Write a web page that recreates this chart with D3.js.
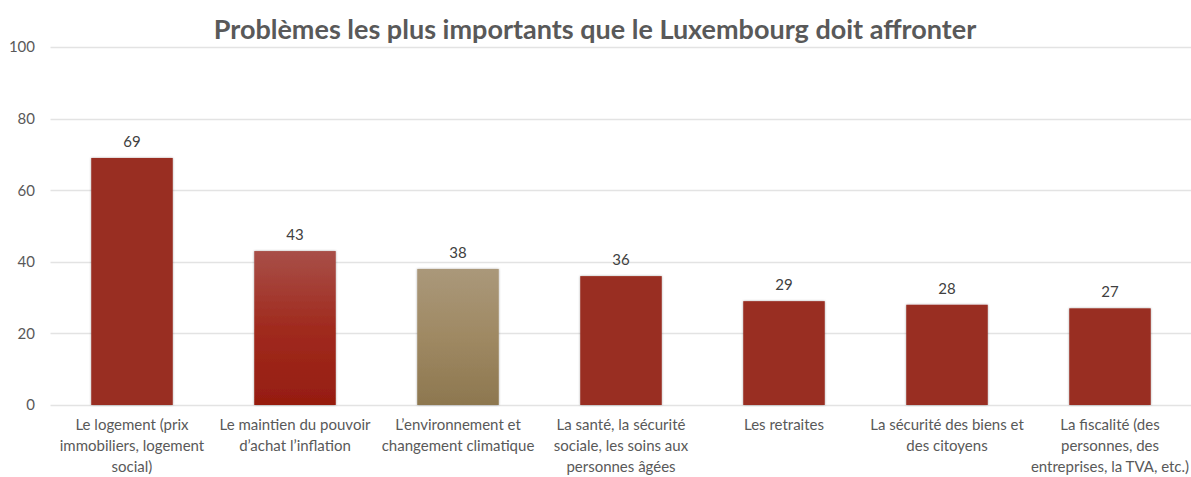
<!DOCTYPE html>
<html>
<head>
<meta charset="utf-8">
<script src="https://cdn.jsdelivr.net/npm/d3@7"></script>
<style>
  html, body { margin: 0; padding: 0; background: #fff; }
  svg { display: block; font-family: Lato, "Open Sans", sans-serif; }
</style>
</head>
<body>
<svg id="chart" width="1191" height="477"></svg>
<script>
// Problem categories (multi-line axis labels)
const categories = [
  ["Le logement (prix", "immobiliers, logement", "social)"],
  ["Le maintien du pouvoir", "d\u2019achat l\u2019inflation"],
  ["L\u2019environnement et", "changement climatique"],
  ["La sant\u00e9, la s\u00e9curit\u00e9", "sociale, les soins aux", "personnes \u00e2g\u00e9es"],
  ["Les retraites"],
  ["La s\u00e9curit\u00e9 des biens et", "des citoyens"],
  ["La fiscalit\u00e9 (des", "personnes, des", "entreprises, la TVA, etc.)"]
];
// Share of respondents (%)
const values = [69, 43, 38, 36, 29, 28, 27];
// Fill style per bar: solid red, red gradient, bronze gradient
const fills = ["solid", "redGrad", "bronzeGrad", "solid", "solid", "solid", "solid"];
const yTicks = [0, 20, 40, 60, 80, 100];
const title = "Probl\u00e8mes les plus importants que le Luxembourg doit affronter";

const svg = d3.select("#chart");
const W = 1191, H = 477;
const margin = { left: 50.5, right: -0.5, top: 47, bottom: 72 };

const x = d3.scaleBand()
  .domain(d3.range(categories.length))
  .range([margin.left, W - margin.right])
  .paddingInner(0.5)
  .paddingOuter(0.25);

const y = d3.scaleLinear()
  .domain([0, 100])
  .range([H - margin.bottom - 0, margin.top]);

// Gradients and shadow
const defs = svg.append("defs");
const g1 = defs.append("linearGradient").attr("id", "redGrad").attr("x1", 0).attr("y1", 0).attr("x2", 0).attr("y2", 1);
g1.append("stop").attr("offset", "0%").attr("stop-color", "#a84f48");
g1.append("stop").attr("offset", "50%").attr("stop-color", "#a02a1e");
g1.append("stop").attr("offset", "100%").attr("stop-color", "#961d10");
const g2 = defs.append("linearGradient").attr("id", "bronzeGrad").attr("x1", 0).attr("y1", 0).attr("x2", 0).attr("y2", 1);
g2.append("stop").attr("offset", "0%").attr("stop-color", "#aa987a");
g2.append("stop").attr("offset", "50%").attr("stop-color", "#9f8963");
g2.append("stop").attr("offset", "100%").attr("stop-color", "#8d774f");
const sh = defs.append("filter").attr("id", "shadow").attr("x", "-10%").attr("y", "-10%").attr("width", "120%").attr("height", "120%");
sh.append("feDropShadow").attr("dx", 0).attr("dy", 0).attr("stdDeviation", 0.8)
  .attr("flood-color", "#000").attr("flood-opacity", 0.35);

// Gridlines
svg.append("g")
  .selectAll("line")
  .data(yTicks)
  .join("line")
  .attr("x1", margin.left)
  .attr("x2", W)
  .attr("y1", d => Math.round(y(d)) + 0.5)
  .attr("y2", d => Math.round(y(d)) + 0.5)
  .attr("stroke", "#e3e3e3")
  .attr("stroke-width", 1.3);

// Y axis labels
const yAxis = d3.axisLeft(y).tickValues(yTicks).tickSize(0).tickPadding(0);
svg.append("g")
  .attr("transform", `translate(35,0)`)
  .call(yAxis)
  .call(g => g.select(".domain").remove())
  .call(g => g.selectAll("text")
    .attr("font-family", "Lato, 'Open Sans', sans-serif")
    .attr("font-size", 15)
    .attr("fill", "#595959"));

// Bars
svg.append("g")
  .selectAll("rect")
  .data(values)
  .join("rect")
  .attr("x", (d, i) => x(i))
  .attr("width", x.bandwidth())
  .attr("y", d => y(d))
  .attr("height", d => y(0) - y(d))
  .attr("fill", (d, i) => fills[i] === "solid" ? "#992d20" : `url(#${fills[i]})`)
  .attr("filter", "url(#shadow)");

// Value labels
svg.append("g")
  .selectAll("text")
  .data(values)
  .join("text")
  .attr("x", (d, i) => x(i) + x.bandwidth() / 2)
  .attr("y", d => y(d) - 11)
  .attr("text-anchor", "middle")
  .attr("font-size", 15)
  .attr("fill", "#404040")
  .text(d => d);

// Category labels
const xl = svg.append("g")
  .selectAll("text")
  .data(categories)
  .join("text")
  .attr("x", (d, i) => x(i) + x.bandwidth() / 2)
  .attr("y", 430)
  .attr("text-anchor", "middle")
  .attr("font-size", 15)
  .attr("fill", "#595959");
xl.selectAll("tspan")
  .data(d => d)
  .join("tspan")
  .attr("x", function () { return d3.select(this.parentNode).attr("x"); })
  .attr("dy", (d, i) => i === 0 ? 0 : 21)
  .text(d => d);

// Title
svg.append("text")
  .attr("x", 595)
  .attr("y", 39)
  .attr("text-anchor", "middle")
  .attr("font-size", 27)
  .attr("font-weight", "bold")
  .attr("fill", "#595959")
  .text(title);
</script>
</body>
</html>
